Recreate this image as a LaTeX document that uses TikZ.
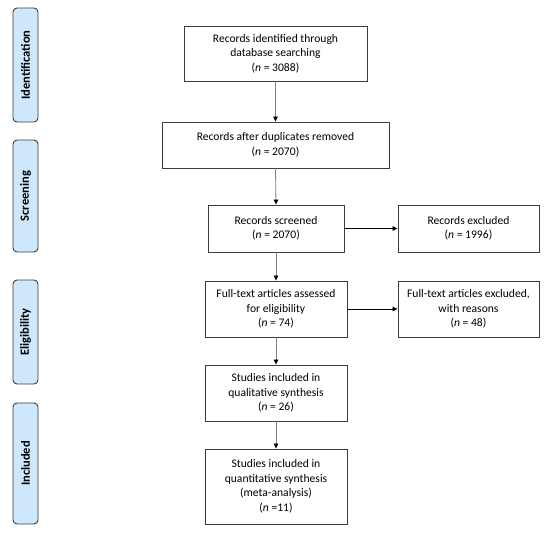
\documentclass[tikz,border=0pt]{standalone}
\usepackage{fontspec}
\setmainfont{Carlito}
\usepackage{tikz}
\usetikzlibrary{arrows.meta,positioning}
\definecolor{phaseblue}{RGB}{206,231,251}
\definecolor{edgegray}{RGB}{60,60,60}

\begin{document}
\begin{tikzpicture}[x=1pt,y=-1pt,
    font=\fontsize{11.6}{14.5}\selectfont,
    every node/.style={align=center,inner sep=0pt},
    stagebox/.style={draw=edgegray,line width=0.9pt,fill=white},
    phasebox/.style={draw=edgegray,line width=0.9pt,rounded corners=4pt,fill=phaseblue,
      minimum width=25pt,font=\fontsize{12.5}{14}\selectfont\bfseries},
    flow/.style={-{Triangle[length=5pt,width=4.5pt,black]},draw=gray,line width=0.8pt}]
    \useasboundingbox (0,0) rectangle (550,535);
    % phases
    \node[phasebox,minimum height=114pt] (pident) at (25.5,65) {\rotatebox{90}{Identification}};
    \node[phasebox,minimum height=112pt] (pscreen) at (25.5,196) {\rotatebox{90}{Screening}};
    \node[phasebox,minimum height=104pt] (pelig) at (25.5,332) {\rotatebox{90}{Eligibility}};
    \node[phasebox,minimum height=121pt] (pincl) at (25.5,463.5) {\rotatebox{90}{Included}};
    % main column
    \node[stagebox,minimum width=183pt,minimum height=55pt] (ident) at (275.5,53.5) {Records identified through\\database searching\\(\textit{n} = 3088)};
    \node[stagebox,minimum width=227pt,minimum height=46pt] (dedup) at (275.5,145) {Records after duplicates removed\\(\textit{n} = 2070)};
    \node[stagebox,minimum width=136pt,minimum height=47pt] (screen) at (276,228.5) {Records screened\\(\textit{n} = 2070)};
    \node[stagebox,minimum width=142pt,minimum height=56pt] (fulltext) at (276,309) {Full-text articles assessed\\for eligibility\\(\textit{n} = 74)};
    \node[stagebox,minimum width=142pt,minimum height=56pt] (qual) at (276,393) {Studies included in\\qualitative synthesis\\(\textit{n} = 26)};
    \node[stagebox,minimum width=142pt,minimum height=75pt] (quant) at (276,486.5) {Studies included in\\quantitative synthesis\\(meta-analysis)\\(\textit{n} =11)};
    % exclusions
    \node[stagebox,minimum width=141pt,minimum height=47pt] (excl) at (468.5,228.5) {Records excluded\\(\textit{n} = 1996)};
    \node[stagebox,minimum width=141pt,minimum height=56pt] (exclft) at (468.5,309) {Full-text articles excluded,\\with reasons\\(\textit{n} = 48)};
    % connectors
    \draw[flow] (ident.south) -- (dedup.north);
    \draw[flow] (dedup.south) -- (screen.north);
    \draw[flow] (screen.south) -- (fulltext.north);
    \draw[flow] (fulltext.south) -- (qual.north);
    \draw[flow] (qual.south) -- (quant.north);
    \draw[flow,draw=black] (screen.east) -- (excl.west);
    \draw[flow,draw=black] (fulltext.east) -- (exclft.west);
\end{tikzpicture}
\end{document}
